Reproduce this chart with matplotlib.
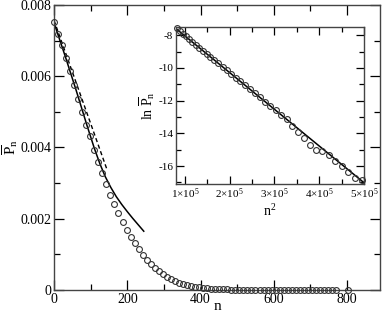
import numpy as np
import matplotlib.pyplot as plt
from matplotlib.ticker import MultipleLocator, FixedLocator

plt.rcParams['font.family'] = 'Liberation Serif'
plt.rcParams['mathtext.fontset'] = 'custom'
plt.rcParams['mathtext.rm'] = 'Liberation Serif'
plt.rcParams['mathtext.it'] = 'Liberation Serif:italic'
plt.rcParams['axes.unicode_minus'] = False

# main panel: simulated points (P in units of 1e-3), spacing 11 in n
n_main = list(range(0, 771, 11)) + [803]
p_main_e3 = [7.51, 7.19, 6.87, 6.52, 6.14, 5.75, 5.37, 5.01, 4.63, 4.31,
             3.93, 3.59, 3.28, 2.97, 2.67, 2.41, 2.15, 1.92, 1.69, 1.50,
             1.31, 1.14, 0.98, 0.84, 0.73, 0.63, 0.52, 0.44, 0.37, 0.31,
             0.26, 0.21, 0.17, 0.14, 0.11, 0.09, 0.07, 0.06, 0.05, 0.04,
             0.03, 0.025, 0.02, 0.015, 0.012, 0.009, 0.007, 0.005, 0.004, 0.003,
             0.002, 0.0015, 0.001, 0.0008, 0.0006, 0.0004, 0.0003, 0.0002, 0.0001, 0.0,
             0.0, 0.0, 0.0, 0.0, 0.0, 0.0, 0.0, 0.0, 0.0, 0.0,
             0.0, 0.0]

# solid fit curve
n_fit = [0, 30, 60, 90, 110, 125, 140, 155, 170, 185, 200, 215, 230, 245]
p_fit_e3 = [7.50, 6.58, 5.62, 4.62, 3.98, 3.55, 3.18, 2.88, 2.62, 2.40,
            2.20, 2.01, 1.83, 1.65]

# dashed straight line (initial slope)
n_lin = [0, 145]
p_lin_e3 = [7.57, 3.37]

# inset: ln P vs n^2
n_ins = list(range(286, 705, 11))
lnp_ins = [-7.58, -7.74, -7.92, -8.08, -8.25, -8.42, -8.58, -8.76, -8.95, -9.14,
           -9.33, -9.52, -9.73, -9.94, -10.15, -10.37, -10.60, -10.83, -11.06, -11.30,
           -11.55, -11.80, -12.06, -12.32, -12.60, -12.87, -13.15, -13.55, -13.92, -14.30,
           -14.72, -15.00, -15.10, -15.30, -15.68, -16.02, -16.35, -16.75, -16.88]
x_ins_line = [0.8e5, 5.0e5]
y_ins_line = [-7.60, -17.02]

fig = plt.figure(figsize=(3.82, 3.15), dpi=100)
ax = fig.add_axes([0.1414, 0.0794, 0.8534, 0.9047])

ax.plot(n_main, np.array(p_main_e3) * 1e-3, 'o', ms=4.2, mfc='none', mec='#333333',
        mew=0.8, clip_on=False, zorder=3)
ax.plot(n_fit, np.array(p_fit_e3) * 1e-3, '-', color='black', lw=1.1)
ax.plot(n_lin, np.array(p_lin_e3) * 1e-3, '--', color='black', lw=1.0, dashes=(3, 2))

ax.set_xlim(0, 890)
ax.set_ylim(0, 0.008)
ax.xaxis.set_major_locator(MultipleLocator(200))
ax.xaxis.set_minor_locator(MultipleLocator(100))
ax.yaxis.set_major_locator(FixedLocator([0, 0.002, 0.004, 0.006, 0.008]))
ax.yaxis.set_minor_locator(MultipleLocator(0.001))
ax.set_yticklabels(['0', '0.002', '0.004', '0.006', '0.008'])
ax.tick_params(which='both', direction='in', top=True, right=True, labelsize=10, pad=2)
ax.tick_params(which='major', length=7, width=0.9)
ax.tick_params(which='minor', length=4, width=0.9)
for s in ax.spines.values():
    s.set_linewidth(1.0)
    s.set_color('#444444')
ax.set_xlabel('n', fontsize=11, labelpad=-4)
ax.set_ylabel(r'$\overline{\mathrm{P}}_\mathrm{n}$', fontsize=11, labelpad=0)

# inset
axi = fig.add_axes([0.4607, 0.4159, 0.4921, 0.4984])
axi.plot(np.array(n_ins) ** 2, lnp_ins, 'o', ms=4.2, mfc='none', mec='#333333',
         mew=0.8, clip_on=False, zorder=3)
axi.plot(x_ins_line, y_ins_line, '-', color='black', lw=1.1)
axi.set_xlim(0.8e5, 5.0e5)
axi.set_ylim(-17.1, -7.5)
axi.xaxis.set_major_locator(FixedLocator([1e5, 2e5, 3e5, 4e5, 5e5]))
axi.xaxis.set_minor_locator(MultipleLocator(0.5e5))
axi.set_xticklabels([r'$1{\times}10^5$', r'$2{\times}10^5$', r'$3{\times}10^5$',
                     r'$4{\times}10^5$', r'$5{\times}10^5$'])
axi.yaxis.set_major_locator(MultipleLocator(2))
axi.yaxis.set_minor_locator(MultipleLocator(1))
axi.tick_params(which='both', direction='in', top=True, right=True, labelsize=8, pad=2)
axi.tick_params(which='major', length=6, width=0.9)
axi.tick_params(which='minor', length=3.5, width=0.9)
for s in axi.spines.values():
    s.set_linewidth(1.0)
    s.set_color('#444444')
axi.set_xlabel(r'n$^2$', fontsize=10, labelpad=1)
axi.set_ylabel(r'$\mathrm{ln}\ \overline{\mathrm{P}}_\mathrm{n}$', fontsize=10, labelpad=1)

fig.savefig('out.png', dpi=100)
